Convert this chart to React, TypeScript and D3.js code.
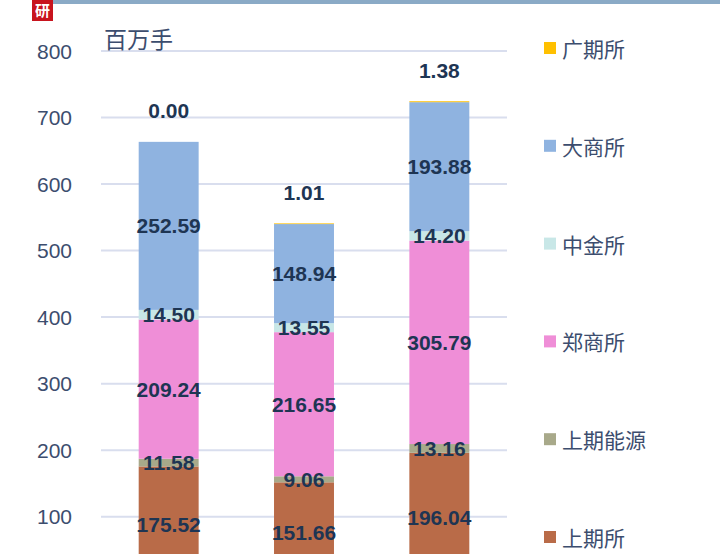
import React from "react";
import * as d3 from "d3";

const categories = ["A", "B", "C"];
const seriesNames = ["上期所", "上期能源", "郑商所", "中金所", "大商所", "广期所"];
const shfe = [175.52, 151.66, 196.04];
const ine = [11.58, 9.06, 13.16];
const czce = [209.24, 216.65, 305.79];
const cffex = [14.5, 13.55, 14.2];
const dce = [252.59, 148.94, 193.88];
const gfex = [0.0, 1.01, 1.38];
const yTicks = [100, 200, 300, 400, 500, 600, 700, 800];
const unitLabel = "百万手";

const colors = ["#b96b48", "#a8a98a", "#ef8ed7", "#c8e7e7", "#8fb3e0", "#ffc000"];

const W = 720;
const H = 554;

export default function App() {
  const seriesValues = [shfe, ine, czce, cffex, dce, gfex];
  const rows = categories.map((c, i) => {
    const r: any = { cat: c };
    seriesNames.forEach((s, k) => (r[s] = seriesValues[k][i]));
    return r;
  });
  const stacked = d3.stack().keys(seriesNames)(rows);

  const x = d3.scaleBand().domain(categories).range([101, 507]).paddingInner(0.557).paddingOuter(0.2785);
  const y = d3.scaleLinear().domain([0, 800]).range([583.2, 51]);

  const numFont = "'Liberation Sans', Arial, sans-serif";
  const cjkFont = "'Noto Sans CJK SC', 'Noto Sans', sans-serif";
  const labelColor = "#1e3553";
  const tickColor = "#3c4d6e";

  const legendY0 = 48;
  const legendStep = 97.8;
  const legendOrder = [...seriesNames].reverse();

  return (
    <div style={{ position: "fixed", left: 0, top: 0, width: W, height: H, background: "#fff" }}>
      <svg width={W} height={H} style={{ display: "block" }}>
        <rect x={0} y={0} width={W} height={H} fill="#ffffff" />
        <rect x={53} y={0} width={W - 53} height={4} fill="#8aaac6" />
        <rect x={32} y={0} width={21} height={21} fill="#c8141e" />
        <text x={42.5} y={16} textAnchor="middle" fontSize={15} fontWeight="bold" fill="#fff" fontFamily={cjkFont}>研</text>

        {yTicks.map((t) => (
          <line key={t} x1={101} x2={507} y1={y(t)} y2={y(t)} stroke="#d9deee" strokeWidth={2} />
        ))}
        {yTicks.map((t) => (
          <text key={t} x={72} y={y(t)} textAnchor="end" dominantBaseline="central" fontSize={21} fill={tickColor} fontFamily={numFont}>
            {t}
          </text>
        ))}
        <text x={104} y={48} fontSize={23} fill={tickColor} fontFamily={cjkFont}>{unitLabel}</text>

        {stacked.map((s, k) => (
          <g key={s.key}>
            {s.map((d, i) => (
              <rect
                key={i}
                x={x(categories[i])}
                width={x.bandwidth()}
                y={y(d[1])}
                height={Math.max(0, y(d[0]) - y(d[1]))}
                fill={colors[k]}
              />
            ))}
          </g>
        ))}
        {stacked.map((s, k) => (
          <g key={"l" + s.key}>
            {s.map((d, i) => {
              const cx = (x(categories[i]) as number) + x.bandwidth() / 2;
              const isTop = k === stacked.length - 1;
              const cy = isTop ? y(d[1]) - 31 : (y(d[0]) + y(d[1])) / 2;
              return (
                <text
                  key={i}
                  x={cx}
                  y={cy}
                  textAnchor="middle"
                  dominantBaseline="central"
                  fontSize={21}
                  fontWeight="bold"
                  fill={labelColor}
                  fontFamily={numFont}
                >
                  {seriesValues[k][i].toFixed(2)}
                </text>
              );
            })}
          </g>
        ))}

        {legendOrder.map((name, j) => {
          const k = seriesNames.indexOf(name);
          const cy = legendY0 + j * legendStep;
          return (
            <g key={name}>
              <rect x={544} y={cy - 6} width={12} height={12} fill={colors[k]} />
              <text x={562} y={cy} dominantBaseline="central" fontSize={21} fill={tickColor} fontFamily={cjkFont}>
                {name}
              </text>
            </g>
          );
        })}
      </svg>
    </div>
  );
}
